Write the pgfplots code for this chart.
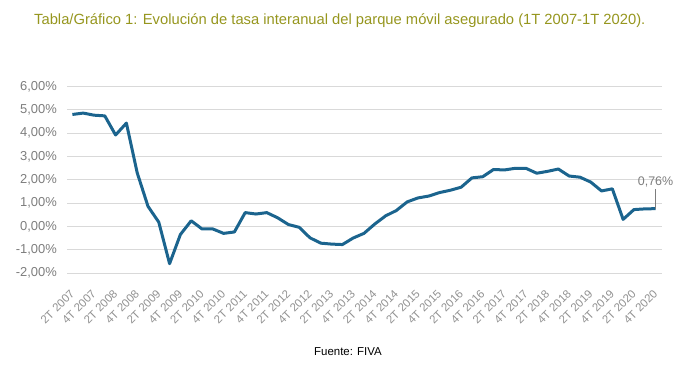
\documentclass[border=0pt]{standalone}
\usepackage{fontspec}
\setmainfont{Liberation Sans}
\usepackage{pgfplots}
\usepackage{pgfplotstable}
\pgfplotsset{compat=1.18}
\definecolor{lineblue}{RGB}{27,100,142}
\definecolor{titleol}{RGB}{150,150,30}
\definecolor{tickgray}{RGB}{125,125,125}
\definecolor{xtickgray}{RGB}{145,145,145}
\definecolor{gridgray}{RGB}{217,217,217}

\pgfplotstableread{
x y
0 4.80
1 4.86
2 4.77
3 4.74
4 3.92
5 4.43
6 2.30
7 0.86
8 0.18
9 -1.60
10 -0.35
11 0.24
12 -0.11
13 -0.11
14 -0.30
15 -0.24
16 0.59
17 0.53
18 0.59
19 0.37
20 0.08
21 -0.04
22 -0.49
23 -0.72
24 -0.76
25 -0.78
26 -0.50
27 -0.30
28 0.10
29 0.45
30 0.68
31 1.05
32 1.22
33 1.30
34 1.45
35 1.55
36 1.68
37 2.08
38 2.13
39 2.44
40 2.42
41 2.49
42 2.49
43 2.28
44 2.36
45 2.46
46 2.16
47 2.11
48 1.90
49 1.52
50 1.61
51 0.30
52 0.72
53 0.75
54 0.76
}\datatable

\begin{document}
\begin{tikzpicture}
\path[use as bounding box] (0,0) rectangle (696bp,372bp);
\node[anchor=west, text=titleol, font=\fontsize{14.8}{17}\selectfont, inner sep=0pt] at (34bp,351bp) {Tabla/Gráfico 1: Evolución de tasa interanual del parque móvil asegurado (1T 2007-1T 2020).};
\begin{axis}[
  at={(67bp,99bp)}, anchor=south west,
  scale only axis, width=595bp, height=186.5bp,
  xmin=-0.5, xmax=54.6, ymin=-2, ymax=6,
  axis line style={draw=none},
  ymajorgrids, grid style={gridgray, line width=0.75bp},
  major tick length=0pt,
  ytick={-2,...,6},
  yticklabels={{-2,00\%},{-1,00\%},{0,00\%},{1,00\%},{2,00\%},{3,00\%},{4,00\%},{5,00\%},{6,00\%}},
  yticklabel style={font=\fontsize{13}{15}\selectfont, text=tickgray, inner sep=0pt},
  yticklabel shift=10bp,
  xtick={0,2,...,54},
  xticklabels={2T 2007,4T 2007,2T 2008,4T 2008,2T 2009,4T 2009,2T 2010,4T 2010,2T 2011,4T 2011,2T 2012,4T 2012,2T 2013,4T 2013,2T 2014,4T 2014,2T 2015,4T 2015,2T 2016,4T 2016,2T 2017,4T 2017,2T 2018,4T 2018,2T 2019,4T 2019,2T 2020,4T 2020},
  xticklabel style={font=\fontsize{11.5}{13}\selectfont, text=xtickgray, rotate=45, anchor=east, inner sep=0pt},
  xticklabel shift=19bp,
  clip=false,
]
\addplot[lineblue, line width=3bp, line join=round] table[x=x,y=y]{\datatable};
\draw[tickgray, line width=0.6bp] (axis cs:54,0.76) -- (axis cs:54,1.62) node[anchor=south, inner sep=1.5bp, font=\fontsize{12.5}{14}\selectfont, text=tickgray]{0,76\%};
\end{axis}
\node[font=\fontsize{11.5}{13}\selectfont] at (348bp,20bp) {Fuente: FIVA};
\end{tikzpicture}
\end{document}
